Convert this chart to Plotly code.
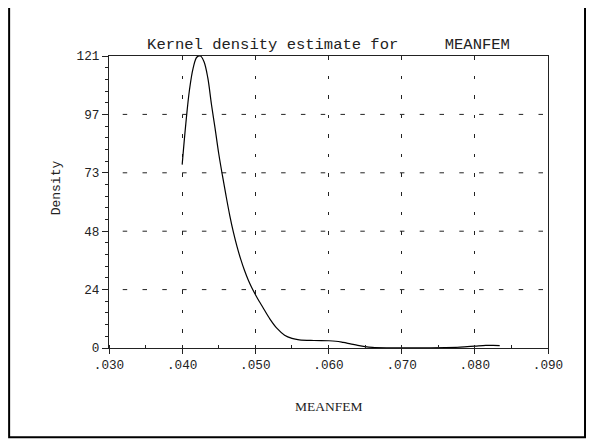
import plotly.graph_objects as go

# ---- data ----
meanfem = [0.0400, 0.0405, 0.0410, 0.0415, 0.0420, 0.0425, 0.0430, 0.0435, 0.0440,
           0.0445, 0.0450, 0.0455, 0.0460, 0.0465, 0.0470, 0.0475, 0.0480, 0.0485,
           0.0490, 0.0495, 0.0500, 0.0505, 0.0510, 0.0520, 0.0530, 0.0540, 0.0550, 0.0560,
           0.0580, 0.0600, 0.0610, 0.0620, 0.0630, 0.0640, 0.0650, 0.0660, 0.0680,
           0.0700, 0.0720, 0.0740, 0.0760, 0.0780, 0.0800, 0.0815, 0.0825, 0.0834]
density = [76, 93, 107, 116, 120.5, 121, 118.5, 112, 101,
           91, 80.5, 71.5, 63, 55, 48, 42, 36.8, 32.3,
           28.4, 25.1, 22.2, 19.5, 17, 12, 8, 5.3, 4.0, 3.4,
           3.1, 3.0, 2.8, 2.3, 1.7, 1.1, 0.6, 0.3, 0.1,
           0.05, 0.05, 0.1, 0.2, 0.4, 0.8, 1.1, 1.1, 1.0]

x_ticks = [0.030, 0.040, 0.050, 0.060, 0.070, 0.080, 0.090]
x_ticklabels = [".030", ".040", ".050", ".060", ".070", ".080", ".090"]
y_ticks = [0, 24.2, 48.4, 72.6, 96.8, 121]
y_ticklabels = ["0", "24", "48", "73", "97", "121"]

title_text = "Kernel density estimate for\u00a0\u00a0\u00a0\u00a0\u00a0MEANFEM"
x_title = "MEANFEM"
y_title = "Density"

# ---- layout geometry (pixels, in the 594x442 window) ----
OFF = 8  # the page body has an 8px default margin
W, H = 594 - OFF, 442 - OFF
L, R, T, B = 109.3 - OFF, 548.0 - OFF, 56.3 - OFF, 348.3 - OFF
pw, ph = R - L, B - T

def px_x(p):
    return (p - OFF - L) / pw

def px_y(p):
    return (B - (p - OFF)) / ph

mono = "Liberation Mono, Courier New, monospace"
serif = "Liberation Serif, Times New Roman, serif"
ink = "#222222"

fig = go.Figure()
fig.add_trace(go.Scatter(x=meanfem, y=density, mode="lines",
                         line=dict(color="black", width=1.2, shape="spline"),
                         hoverinfo="skip", showlegend=False))

shapes = []
# horizontal dashed grid lines (start with a gap next to the axis)
for yv in y_ticks[1:-1]:
    shapes.append(dict(type="line", xref="x", yref="y",
                       x0=x_ticks[0] + 13.7 * (x_ticks[-1] - x_ticks[0]) / pw, x1=x_ticks[-1],
                       y0=yv, y1=yv,
                       line=dict(color=ink, width=1, dash="4.5px,15.3px"), layer="below"))
# outer frame
shapes.append(dict(type="rect", xref="paper", yref="paper",
                   x0=px_x(9.5), x1=px_x(585), y0=px_y(437.5), y1=px_y(4.5),
                   line=dict(color="black", width=2), layer="above"))

fig.update_layout(
    width=W, height=H,
    margin=dict(l=L, r=W - R, t=T, b=H - B, pad=0),
    paper_bgcolor="white", plot_bgcolor="white",
    shapes=shapes,
    title=dict(text=title_text, x=0.5, xref="paper", xanchor="center",
               y=1 - (43.5 - OFF) / H, yref="container", yanchor="middle",
               font=dict(family=mono, size=15.5, color=ink)),
    annotations=[
        dict(text=x_title, xref="paper", yref="paper", x=0.5, y=px_y(407),
             xanchor="center", yanchor="middle", showarrow=False,
             font=dict(family=serif, size=13.5, color=ink)),
        dict(text=y_title, xref="paper", yref="paper", x=px_x(57), y=px_y(188),
             xanchor="center", yanchor="middle", showarrow=False, textangle=-90,
             font=dict(family=mono, size=13, color=ink)),
    ],
)

fig.update_xaxes(
    range=[x_ticks[0], x_ticks[-1]], tickmode="array", tickvals=x_ticks, ticktext=x_ticklabels,
    ticks="outside", ticklen=5, tickwidth=1, tickcolor=ink,
    minor=dict(ticks="inside", ticklen=3.5, tickwidth=1, tickcolor=ink, dtick=0.005, tick0=0.03,
               showgrid=False),
    showline=True, linecolor=ink, linewidth=1, mirror=True,
    showgrid=True, gridcolor=ink, gridwidth=1, griddash="3.5px,16px",
    zeroline=False, tickfont=dict(family=mono, size=12.7, color=ink),
    fixedrange=True,
)
fig.update_yaxes(
    range=[y_ticks[0], y_ticks[-1]], tickmode="array", tickvals=y_ticks, ticktext=y_ticklabels,
    ticks="outside", ticklen=6, tickwidth=1, tickcolor=ink,
    minor=dict(ticks="outside", ticklen=3, tickwidth=1, tickcolor=ink, dtick=121 / 25, tick0=0,
               showgrid=False),
    showline=True, linecolor=ink, linewidth=1, mirror=True,
    showgrid=False, zeroline=False, tickfont=dict(family=mono, size=12.7, color=ink),
    fixedrange=True,
)

fig.write_html("out.html")
